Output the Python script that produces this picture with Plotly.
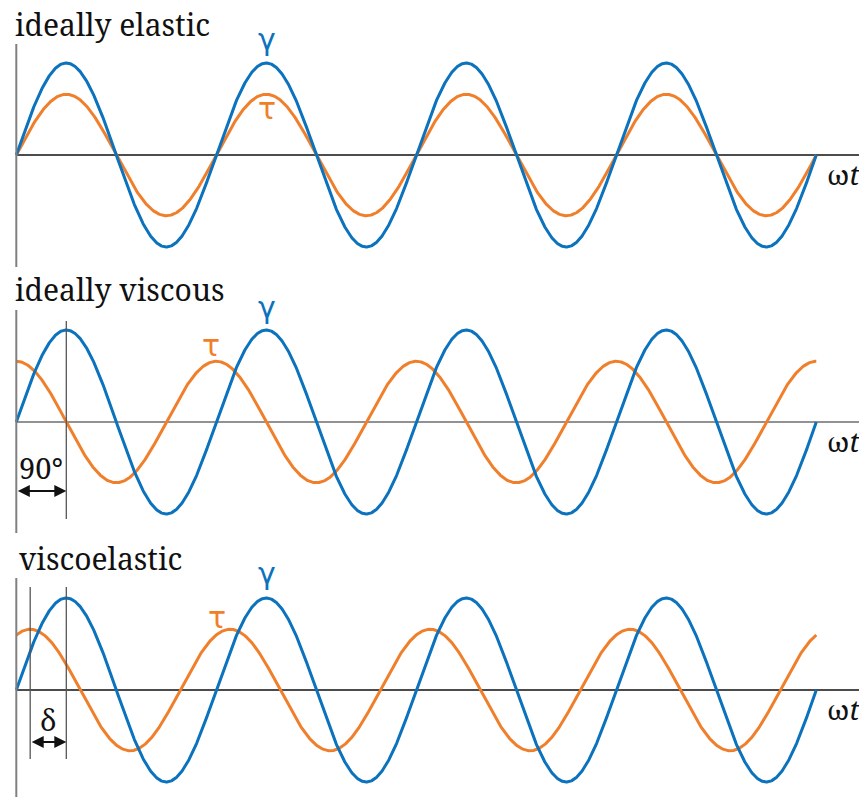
import numpy as np
import plotly.graph_objects as go

# ---- data -------------------------------------------------------------
panel_titles = ["ideally elastic", "ideally viscous", "viscoelastic"]
phase_lead_deg = [0, 90, 65]          # phase of stress τ ahead of strain γ
gamma_amp = [1.0, 1.0, 1.0]           # strain amplitude
tau_amp = [0.66, 0.66, 0.66]          # stress amplitude
n_periods = 4

BLUE = "#0b72bd"
ORANGE = "#f07f2c"

# ---- canvas geometry (pixels) ------------------------------------------
W, H = 859, 797
X0_PX = 16.3                 # ωt = 0
PX_PER_DEG = 800 / 1440.0
AXIS_Y_PX = [155, 422, 690]  # horizontal axis line of each panel
PX_PER_UNIT = 92.0


def px(x):
    return x / W


def py(y):
    return 1 - y / H


theta = np.linspace(0, 360 * n_periods, 1441)
x_range = [-X0_PX / PX_PER_DEG, (W - X0_PX) / PX_PER_DEG]

fig = go.Figure()
layout_axes = {}
shapes = []
annotations = []

serif = "Noto Serif"
sans = "DejaVu Sans"

label_pos = [  # (γ x, γ y, τ x, τ y) in pixels
    (267, 40, 267, 109),
    (267, 307, 211, 345),
    (267, 573, 217, 617),
]
title_pos = [(13, 25), (13, 289), (17, 558)]

for i, name in enumerate(panel_titles):
    yname = "y" if i == 0 else f"y{i + 1}"
    ykey = "yaxis" if i == 0 else f"yaxis{i + 1}"
    ay = AXIS_Y_PX[i]
    top = ay - 120
    bot = min(ay + 120, H)
    layout_axes[ykey] = dict(
        domain=[1 - bot / H, 1 - top / H],
        range=[-(bot - ay) / PX_PER_UNIT, (ay - top) / PX_PER_UNIT],
        visible=False, fixedrange=True, anchor="x",
    )

    d = np.deg2rad(phase_lead_deg[i])
    gamma = gamma_amp[i] * np.sin(np.deg2rad(theta))
    tau = tau_amp[i] * np.sin(np.deg2rad(theta) + d)

    fig.add_trace(go.Scatter(x=theta, y=tau, mode="lines", yaxis=yname,
                             line=dict(color=ORANGE, width=3), showlegend=False,
                             hoverinfo="skip"))
    fig.add_trace(go.Scatter(x=theta, y=gamma, mode="lines", yaxis=yname,
                             line=dict(color=BLUE, width=3), showlegend=False,
                             hoverinfo="skip"))

    # horizontal ωt axis and vertical amplitude axis
    hcol = "#6e6e6e" if i == 1 else "#111111"
    shapes.append(dict(type="line", xref="x", yref=yname, x0=0, x1=x_range[1],
                       y0=0, y1=0, line=dict(color=hcol, width=1.3), layer="below"))
    y_top = (ay - [44, 310, 578][i]) / PX_PER_UNIT
    y_bot = (ay - min([267, 533, 797][i], H)) / PX_PER_UNIT
    shapes.append(dict(type="line", xref="x", yref=yname, x0=0, x1=0,
                       y0=y_bot, y1=y_top, line=dict(color="#808080", width=2)))

    # panel title
    tx, ty = title_pos[i]
    annotations.append(dict(text=name, xref="paper", yref="paper", x=px(tx), y=py(ty),
                            xanchor="left", yanchor="middle", showarrow=False,
                            font=dict(family=serif, size=30, color="#111111")))
    # curve labels
    gx, gy, tx2, ty2 = label_pos[i]
    annotations.append(dict(text="γ", xref="paper", yref="paper", x=px(gx), y=py(gy),
                            xanchor="center", yanchor="middle", showarrow=False,
                            font=dict(family=sans, size=30, color=BLUE)))
    annotations.append(dict(text="τ", xref="paper", yref="paper", x=px(tx2), y=py(ty2),
                            xanchor="center", yanchor="middle", showarrow=False,
                            font=dict(family=sans, size=30, color=ORANGE)))
    # ωt axis label
    annotations.append(dict(text="ω<i>t</i>", xref="paper", yref="paper", x=px(825),
                            y=py(ay + 19), xanchor="left", yanchor="middle",
                            showarrow=False,
                            font=dict(family=serif, size=28, color="#111111")))

# phase-shift markers
guide = [None,
         dict(xs=[90], top=321, bot=519, arrow_y=491, a0=0, text="90°", tx=41, ty=467),
         dict(xs=[90 - phase_lead_deg[2], 90], top=587, bot=759, arrow_y=742,
              a0=90 - phase_lead_deg[2], text="δ", tx=48, ty=719)]
for i, g in enumerate(guide):
    if g is None:
        continue
    yname = f"y{i + 1}"
    ay = AXIS_Y_PX[i]
    for xv in g["xs"]:
        shapes.append(dict(type="line", xref="x", yref=yname, x0=xv, x1=xv,
                           y0=(ay - g["bot"]) / PX_PER_UNIT, y1=(ay - g["top"]) / PX_PER_UNIT,
                           line=dict(color="#555555", width=1.3)))
    yy = (ay - g["arrow_y"]) / PX_PER_UNIT
    annotations.append(dict(x=90, y=yy, ax=g["a0"], ay=yy, xref="x", yref=yname,
                            axref="x", ayref=yname, text="", showarrow=True,
                            arrowside="end+start", arrowhead=2, arrowsize=1.2,
                            arrowwidth=2, arrowcolor="#111111"))
    annotations.append(dict(text=g["text"], xref="paper", yref="paper", x=px(g["tx"]),
                            y=py(g["ty"]), xanchor="center", yanchor="middle",
                            showarrow=False,
                            font=dict(family=serif, size=29, color="#111111")))

fig.update_layout(
    width=W, height=H,
    margin=dict(l=0, r=0, t=0, b=0),
    paper_bgcolor="white", plot_bgcolor="white",
    xaxis=dict(range=x_range, visible=False, fixedrange=True, domain=[0, 1]),
    shapes=shapes, annotations=annotations,
    **layout_axes,
)

fig.write_html("out.html")
